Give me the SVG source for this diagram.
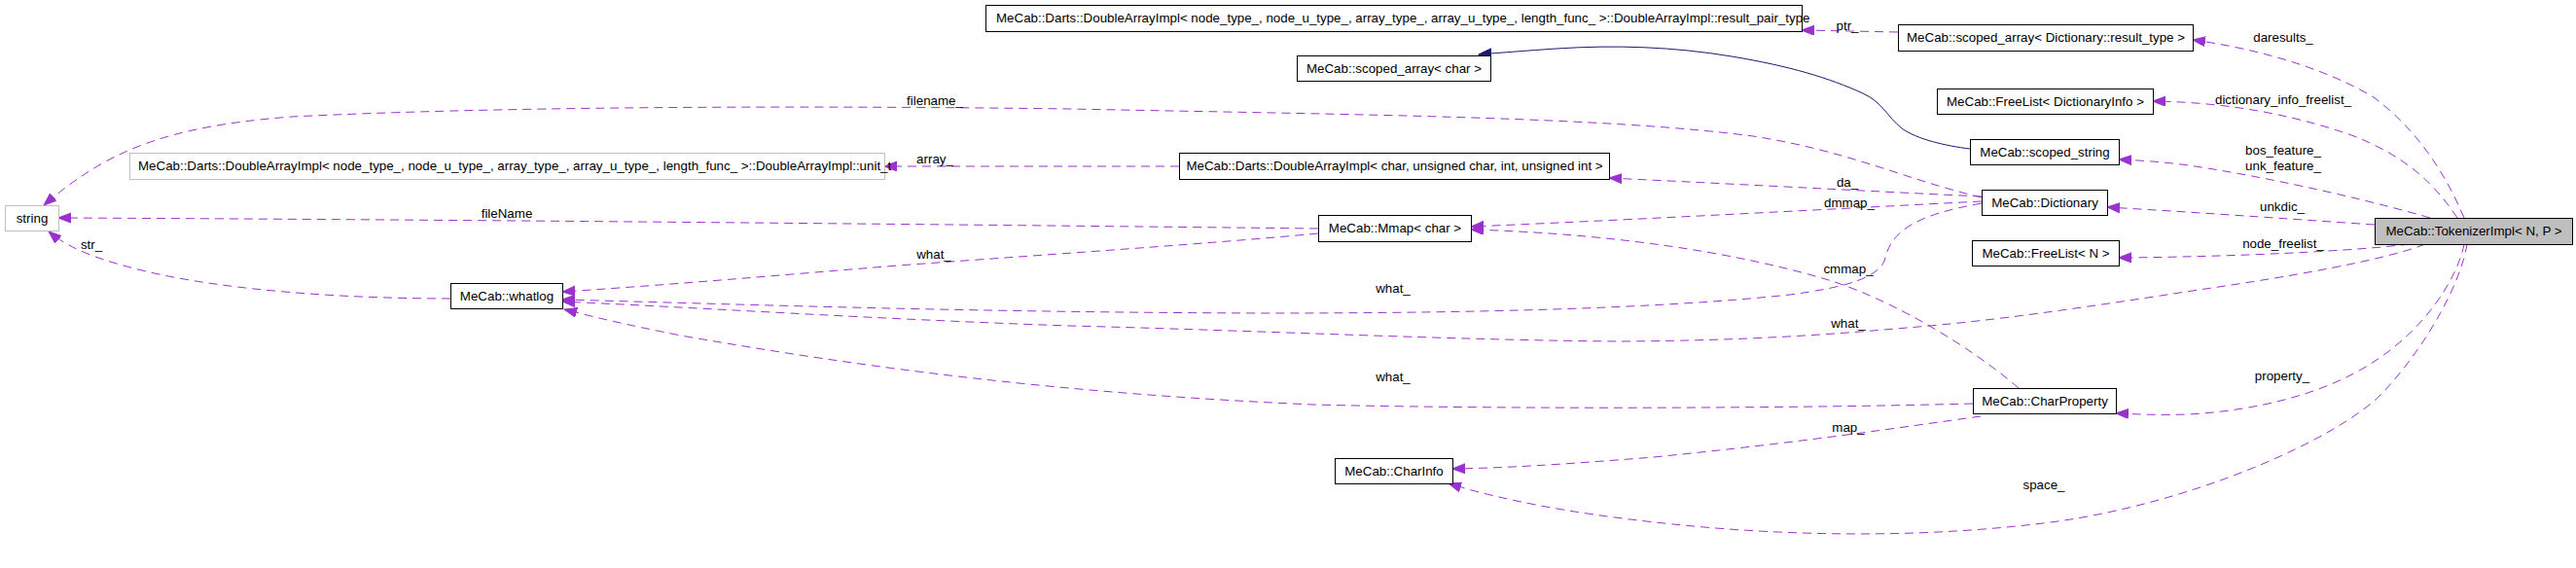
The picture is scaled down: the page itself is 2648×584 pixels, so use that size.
<svg xmlns="http://www.w3.org/2000/svg" width="2648" height="584" viewBox="0 0 2648 584">
<style>
text{font-family:"Liberation Sans",Arial,Helvetica,sans-serif;font-size:13.33px;fill:#000}
.node rect{fill:#fff;stroke:#000;stroke-width:1}
.gray rect{stroke:#bfbfbf}
.main rect{fill:#bfbfbf}
.node text{text-anchor:middle}
.node text.st{text-anchor:start}
.lbl{text-anchor:middle}
.e{fill:none;stroke:#9a32cd;stroke-width:1;stroke-dasharray:9,6;marker-end:url(#pa)}
.inh{fill:none;stroke:#191970;stroke-width:1;marker-end:url(#na)}
</style>
<defs>
<marker id="pa" markerUnits="userSpaceOnUse" markerWidth="14" markerHeight="11" refX="13" refY="5" orient="auto" viewBox="0 0 14 11"><path d="M0,0 L13,5 L0,10 z" fill="#9a32cd" stroke="#9a32cd" stroke-width="1"/></marker>
<marker id="na" markerUnits="userSpaceOnUse" markerWidth="14" markerHeight="11" refX="13" refY="5" orient="auto" viewBox="0 0 14 11"><path d="M0,0 L13,5 L0,10 z" fill="#191970" stroke="#191970" stroke-width="1"/></marker>
</defs>
<rect width="2648" height="584" fill="#fff"/>
<g id="connectors">
<path class="e" d="M2037,203 C1960,185 1900,155 1802,140 C1650,120 1400,118 1100,112 C800,108 500,110 300,120 C170,130 110,155 45,211"/>
<path class="e" d="M1355,235 C1000,231 500,226 60,224"/>
<path class="e" d="M463,307 C350,307 230,298 150,279 C100,267 70,255 50,238"/>
<path class="e" d="M1212,171 L909,171"/>
<path class="e" d="M1951,33 L1852,31"/>
<path class="inh" d="M2025,153 C2000,150 1970,143 1955,132 C1940,120 1935,105 1915,96 C1880,80 1840,68 1780,58 C1720,48 1660,46 1600,50 C1570,52 1545,54 1520,56"/>
<path class="e" d="M2037,202 C1950,198 1800,190 1654,183"/>
<path class="e" d="M2037,207 C1900,214 1700,225 1512,233"/>
<path class="e" d="M2075,399 C2030,360 1950,310 1880,288 C1780,258 1650,240 1512,236"/>
<path class="e" d="M2037,209 C1975,220 1945,235 1938,265 C1933,285 1900,295 1840,303 C1700,318 1500,322 1300,322 C1000,321 800,314 578,308"/>
<path class="e" d="M2493,251 C2450,268 2350,285 2260,298 C2150,315 2050,330 1960,337 C1880,344 1800,350 1668,351 C1500,350 1300,340 1100,335 C900,328 750,318 578,310"/>
<path class="e" d="M1355,240 C1250,250 1100,260 923,273 C800,283 700,292 578,300"/>
<path class="e" d="M2028,415 C1800,421 1500,420 1350,416 C1100,405 900,380 700,345 C640,333 610,326 580,318"/>
<path class="e" d="M2036,428 C1950,440 1850,455 1700,470 C1600,478 1550,481 1493,482"/>
<path class="e" d="M2536,251 C2530,290 2495,355 2450,403 C2405,451 2250,520 2100,538 C1950,556 1800,550 1668,533 C1580,522 1520,507 1489,497"/>
<path class="e" d="M2533,251 C2525,290 2490,340 2440,372 C2390,405 2320,422 2250,426 C2220,427 2200,426 2175,425"/>
<path class="e" d="M2533,224 C2510,170 2480,130 2440,100 C2390,70 2320,50 2254,41"/>
<path class="e" d="M2526,224 C2500,185 2470,160 2420,140 C2350,115 2280,105 2213,104"/>
<path class="e" d="M2498,224 C2450,210 2350,185 2250,170 C2220,166 2200,165 2178,164"/>
<path class="e" d="M2441,231 C2380,227 2270,219 2166,213"/>
<path class="e" d="M2477,251 C2420,258 2300,264 2178,265"/>
<text class="lbl" x="961" y="108">filename_</text>
<text class="lbl" x="961" y="168">array_</text>
<text class="lbl" x="521" y="224">fileName</text>
<text class="lbl" x="94" y="256">str_</text>
<text class="lbl" x="1899" y="31">ptr_</text>
<text class="lbl" x="1899" y="192">da_</text>
<text class="lbl" x="1901" y="213">dmmap_</text>
<text class="lbl" x="1900" y="281">cmmap_</text>
<text class="lbl" x="960" y="266">what_</text>
<text class="lbl" x="1432" y="301">what_</text>
<text class="lbl" x="1900" y="337">what_</text>
<text class="lbl" x="1432" y="392">what_</text>
<text class="lbl" x="1900" y="444">map_</text>
<text class="lbl" x="2101" y="503">space_</text>
<text class="lbl" x="2346" y="391">property_</text>
<text class="lbl" x="2347" y="43">daresults_</text>
<text class="lbl" x="2347" y="107">dictionary_info_freelist_</text>
<text class="lbl" x="2347" y="159">bos_feature_</text>
<text class="lbl" x="2347" y="175">unk_feature_</text>
<text class="lbl" x="2346" y="217">unkdic_</text>
<text class="lbl" x="2347" y="255">node_freelist_</text>
</g>
<g id="n_string" class="node gray"><rect x="5.5" y="211.5" width="55" height="26"/><text x="33" y="228.5">string</text></g>
<g id="n_unit_t" class="node gray"><rect x="133.5" y="157.5" width="776" height="27"/><text class="st" x="142" y="175">MeCab::Darts::DoubleArrayImpl&lt; node_type_, node_u_type_, array_type_, array_u_type_, length_func_ &gt;::DoubleArrayImpl::unit_t</text></g>
<g id="n_result_pair_type" class="node"><rect x="1013.5" y="5.5" width="839" height="27"/><text class="st" x="1024" y="23">MeCab::Darts::DoubleArrayImpl&lt; node_type_, node_u_type_, array_type_, array_u_type_, length_func_ &gt;::DoubleArrayImpl::result_pair_type</text></g>
<g id="n_scoped_array_char" class="node"><rect x="1333.5" y="57.5" width="199" height="26"/><text x="1433" y="74.5">MeCab::scoped_array&lt; char &gt;</text></g>
<g id="n_da_char" class="node"><rect x="1212.5" y="157.5" width="442" height="27"/><text x="1433.5" y="175">MeCab::Darts::DoubleArrayImpl&lt; char, unsigned char, int, unsigned int &gt;</text></g>
<g id="n_mmap" class="node"><rect x="1355.5" y="221.5" width="157" height="27"/><text x="1434" y="239">MeCab::Mmap&lt; char &gt;</text></g>
<g id="n_whatlog" class="node"><rect x="463.5" y="291.5" width="115" height="26"/><text x="521" y="308.5">MeCab::whatlog</text></g>
<g id="n_scoped_array_result" class="node"><rect x="1951.5" y="25.5" width="303" height="27"/><text x="2103" y="43">MeCab::scoped_array&lt; Dictionary::result_type &gt;</text></g>
<g id="n_freelist_dicinfo" class="node"><rect x="1991.5" y="91.5" width="222" height="26"/><text x="2102.5" y="108.5">MeCab::FreeList&lt; DictionaryInfo &gt;</text></g>
<g id="n_scoped_string" class="node"><rect x="2025.5" y="143.5" width="153" height="26"/><text x="2102" y="160.5">MeCab::scoped_string</text></g>
<g id="n_dictionary" class="node"><rect x="2037.5" y="195.5" width="129" height="26"/><text x="2102" y="212.5">MeCab::Dictionary</text></g>
<g id="n_freelist_n" class="node"><rect x="2027.5" y="247.5" width="151" height="26"/><text x="2103" y="264.5">MeCab::FreeList&lt; N &gt;</text></g>
<g id="n_charproperty" class="node"><rect x="2028.5" y="399.5" width="147" height="26"/><text x="2102" y="416.5">MeCab::CharProperty</text></g>
<g id="n_charinfo" class="node"><rect x="1372.5" y="471.5" width="121" height="26"/><text x="1433" y="488.5">MeCab::CharInfo</text></g>
<g id="n_tokenizer" class="node main"><rect x="2441.5" y="224.5" width="203" height="27"/><text x="2543" y="242">MeCab::TokenizerImpl&lt; N, P &gt;</text></g>
</svg>
